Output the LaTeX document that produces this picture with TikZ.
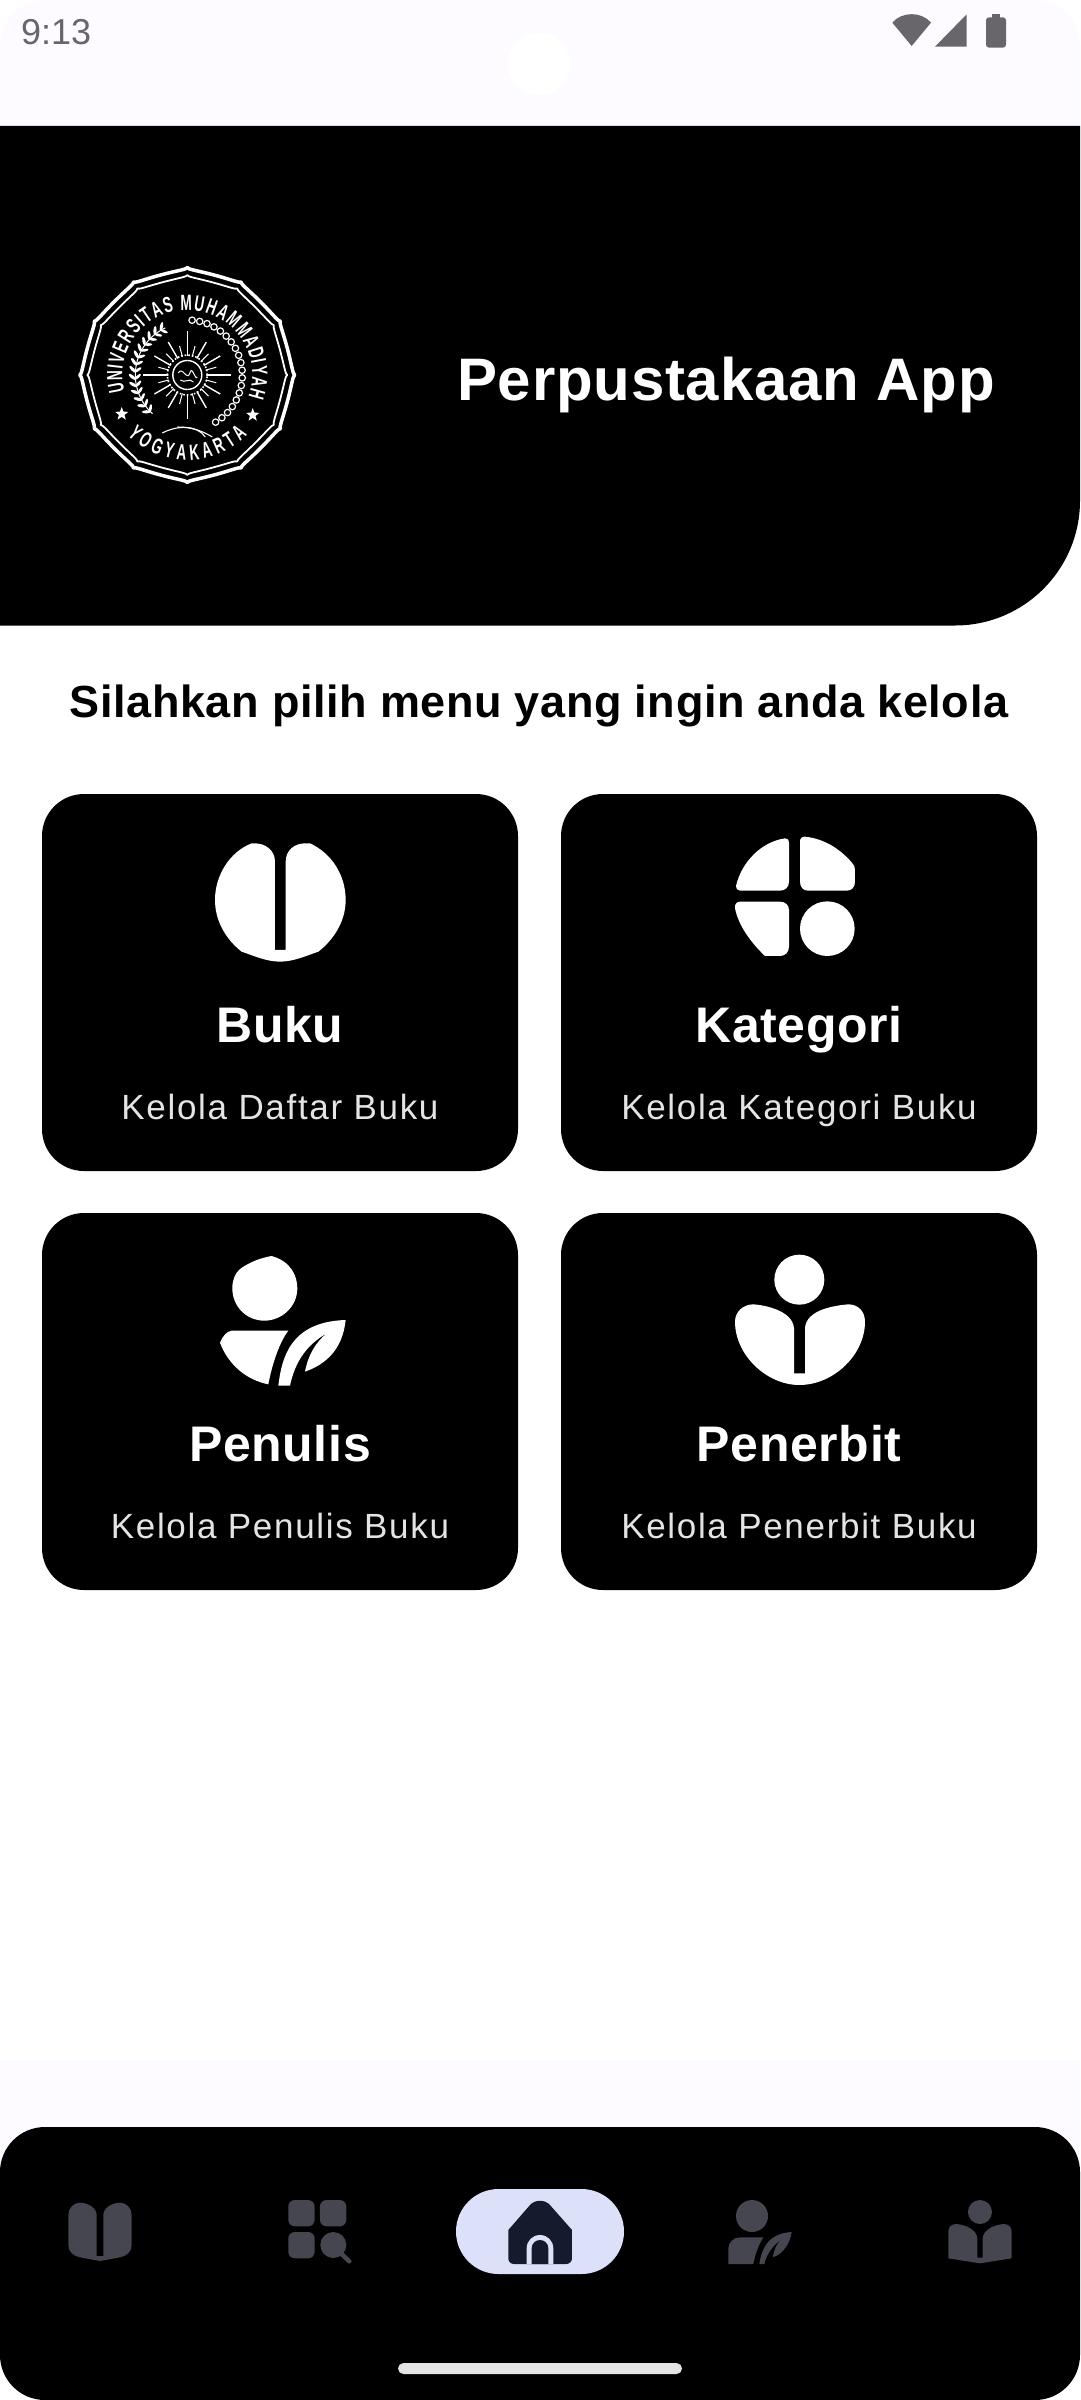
\documentclass[tikz,border=0pt]{standalone}
\usepackage{fontspec}
\setmainfont{Liberation Sans}
\newfontfamily\sealfont[FakeStretch=0.62]{Liberation Sans}
\newfontfamily\headfont[LetterSpace=1.3]{Liberation Sans}
\newfontfamily\subfont[LetterSpace=4.8]{Liberation Sans}
\usetikzlibrary{decorations.text,shapes.geometric}
\definecolor{statusbg}{HTML}{FDFBFF}
\definecolor{statusgrey}{HTML}{68666A}
\definecolor{navgrey}{HTML}{45464F}
\definecolor{pillblue}{HTML}{DCE1F9}
\definecolor{homedark}{HTML}{151B2C}
\definecolor{subgrey}{HTML}{E4E4E4}
\tikzset{
    cardbox/.style={fill=black,rounded corners=42pt},
    cardtitle/.style={anchor=base,text=white,font=\headfont\bfseries\fontsize{50}{50}\selectfont},
    cardsub/.style={anchor=base,text=subgrey,font=\subfont\fontsize{35}{35}\selectfont},
    tiny3/.style={x=0.3333pt,y=-0.3333pt},
}
\begin{document}
\begin{tikzpicture}[x=1pt,y=-1pt]
    \useasboundingbox (0,0) rectangle (1080,2400);
    \fill[white] (0,0) rectangle (1080,2400);

    % status bar
    \fill[statusbg,rounded corners=45pt] (0,0) rectangle (1080,170);
    \fill[statusbg] (0,2060) rectangle (1080,2200);
    \fill[white] (539,64) circle (31);
    \node[anchor=base west,text=statusgrey,inner sep=0pt,font=\fontsize{36}{36}\selectfont] (clock) at (21,45) {9:13};
    \begin{scope}[shift={(880,0)},tiny3]
        \fill[statusgrey] (95,138) -- (37,68) .. controls (65,34) and (125,34) .. (153,68) -- cycle;
        \fill[statusgrey] (165,140) -- (260,140) -- (260,43) -- cycle;
        \fill[statusgrey,rounded corners=3pt] (318,52) rectangle (378,143);
        \fill[statusgrey] (335,42) rectangle (361,56);
    \end{scope}

    % header
    \fill[black] (0,126) -- (1080,126) [rounded corners=125pt] -- (1080,625.5) [sharp corners] -- (0,625.5) -- cycle;
    \node[anchor=base,text=white,font=\headfont\bfseries\fontsize{60}{60}\selectfont] (apptitle) at (726,400) {Perpustakaan App};

    % seal
    \begin{scope}[shift={(187.3,375)},x=1pt,y=1pt]
        \draw[white,line width=3.5pt,line join=round] plot[domain=0:360,samples=361] (\x:{107.5-4*sqrt(abs(sin(6*\x))+0.001)}) -- cycle;
        \draw[white,line width=1.8pt,line join=round] plot[domain=0:360,samples=361] (\x:{100-4*sqrt(abs(sin(6*\x))+0.001)}) -- cycle;
        \path[decorate,decoration={text along path,text align=fit to path,
            text={|\sealfont\bfseries\color{white}\fontsize{22}{22}\selectfont|UNIVERSITAS MUHAMMADIYAH}}]
            (195:65) arc (195:-20:65);
        \path[decorate,decoration={text along path,text align=fit to path,
            text={|\sealfont\bfseries\color{white}\fontsize{22}{22}\selectfont|YOGYAKARTA}}]
            (225:85) arc (225:315:85);
        \node[star,fill=white,star point ratio=2.4,minimum size=14pt,inner sep=0pt] (starleft) at (-65.6,-39) {};
        \node[star,fill=white,star point ratio=2.4,minimum size=14pt,inner sep=0pt] (starright) at (65.4,-40) {};
        \draw[white,line width=1pt] (115:52) arc (115:228:52);
        \foreach \a in {118,126,...,226} {
            \fill[white,shift={(\a:55)},rotate=\a-40] (0,0) ellipse (4.5 and 1.6);
            \fill[white,shift={(\a:49.5)},rotate=\a+40] (0,0) ellipse (4 and 1.4);
        }
        \foreach \a in {85,77,...,-65} {
            \draw[white,line width=1.2pt] (\a:55) circle (3.2);
        }
        \draw[white,line width=1.1pt] (-25,-58) .. controls (-10,-50) and (10,-50) .. (18,-62);
        \draw[white,line width=1.1pt] (-10,-52) .. controls (5,-52) and (15,-56) .. (25,-62);
        \foreach \a in {0,90,180,270} {
            \draw[white,line width=1.6pt] (\a:18) -- (\a:44);
        }
        \foreach \a in {30,60,120,150,210,240,300,330} {
            \draw[white,line width=1.4pt] (\a:18) -- (\a:38);
        }
        \foreach \a in {15,45,...,345} {
            \draw[white,line width=1pt] (\a:18) -- (\a:30);
        }
        \fill[black] (0,0) circle (19);
        \draw[white,line width=1.6pt,dotted] (0,0) circle (20);
        \draw[white,line width=1.4pt] (0,0) circle (14.5);
        \draw[white,line width=1pt] (-9,2) .. controls (-5,10) and (0,-8) .. (3,3) .. controls (5,9) and (8,-6) .. (10,-2);
        \draw[white,line width=1pt] (-7,-5) .. controls (-2,-9) and (2,-2) .. (6,-7);
    \end{scope}

    % prompt
    \node[anchor=base,text=black,font=\headfont\bfseries\fontsize{45}{45}\selectfont] (prompt) at (539,717) {Silahkan pilih menu yang ingin anda kelola};

    % cards
    \fill[cardbox] (42,794) rectangle (518,1171);
    \fill[cardbox] (561,794) rectangle (1037,1171);
    \fill[cardbox] (42,1213) rectangle (518,1590);
    \fill[cardbox] (561,1213) rectangle (1037,1590);

    \node[cardtitle] (bukutitle) at (280,1042) {Buku};
    \node[cardsub] (bukusub) at (280,1119) {Kelola Daftar Buku};
    \node[cardtitle] (kategorititle) at (799,1042) {Kategori};
    \node[cardsub] (kategorisub) at (799,1119) {Kelola Kategori Buku};
    \node[cardtitle] (penulistitle) at (280,1461) {Penulis};
    \node[cardsub] (penulissub) at (280,1538) {Kelola Penulis Buku};
    \node[cardtitle] (penerbittitle) at (799,1461) {Penerbit};
    \node[cardsub] (penerbitsub) at (799,1538) {Kelola Penerbit Buku};

    % card icons
    \begin{scope}[shift={(200,825)},tiny3]
        \fill[white] (225,375) -- (225,110) .. controls (225,75) and (195,55) .. (165,55) -- (155,55)
            .. controls (90,80) and (45,150) .. (45,225) .. controls (45,290) and (80,345) .. (125,380)
            .. controls (160,392) and (200,410) .. (240,410) .. controls (280,410) and (320,392) .. (355,380)
            .. controls (400,345) and (437,290) .. (437,225) .. controls (437,150) and (395,85) .. (330,55)
            -- (315,55) .. controls (285,55) and (257,75) .. (257,110) -- (257,375) -- cycle;
    \end{scope}
    \begin{scope}[shift={(720,825)},tiny3]
        \fill[white] (195,40) .. controls (203,40) and (207,45) .. (207,52) -- (207,170)
            .. controls (207,187) and (195,197) .. (180,197) -- (60,197)
            .. controls (52,197) and (47,190) .. (48,183) .. controls (65,110) and (125,50) .. (195,40) -- cycle;
        \fill[white] (240,50) .. controls (240,40) and (245,35) .. (255,35)
            .. controls (320,42) and (365,78) .. (395,112) .. controls (402,120) and (405,125) .. (405,135) -- (405,170)
            .. controls (405,187) and (395,197) .. (380,197) -- (265,197)
            .. controls (250,197) and (240,187) .. (240,170) -- cycle;
        \fill[white] (60,230) -- (180,230) .. controls (195,230) and (207,240) .. (207,255) -- (207,365)
            .. controls (207,382) and (195,393) .. (180,393) -- (135,393)
            .. controls (90,350) and (55,300) .. (45,250) .. controls (43,238) and (50,230) .. (60,230) -- cycle;
        \fill[white] (322,311) circle (82);
    \end{scope}
    \begin{scope}[shift={(200,1245)},tiny3]
        \fill[white] (215,33) .. controls (275,50) and (292,95) .. (292,130)
            .. controls (292,185) and (245,227) .. (193,227) .. controls (140,227) and (97,185) .. (97,130)
            .. controls (97,105) and (105,85) .. (120,72) .. controls (150,50) and (185,38) .. (215,33) -- cycle;
        \fill[white] (95,257) -- (265,257) .. controls (240,290) and (218,350) .. (205,418)
            .. controls (140,405) and (85,360) .. (60,293) .. controls (70,270) and (80,260) .. (95,257) -- cycle;
        \fill[white] (235,422) .. controls (245,340) and (270,230) .. (437,225)
            .. controls (430,290) and (400,350) .. (315,380) .. controls (325,330) and (345,295) .. (380,265)
            .. controls (320,300) and (285,350) .. (270,422) -- cycle;
    \end{scope}
    \begin{scope}[shift={(720,1245)},tiny3]
        \fill[white] (238,104) circle (75);
        \fill[white] (45,230) .. controls (45,200) and (70,178) .. (100,178) .. controls (130,180) and (218,195) .. (222,250)
            -- (222,385) -- (255,385) -- (255,250) .. controls (258,195) and (340,182) .. (385,178)
            .. controls (415,178) and (435,200) .. (435,230) .. controls (435,330) and (340,420) .. (238,420)
            .. controls (140,420) and (45,330) .. (45,230) -- cycle;
    \end{scope}

    % bottom bar
    \fill[black,rounded corners=45pt] (0,2127) rectangle (1080,2400);
    \fill[pillblue,rounded corners=42.5pt] (456,2189) rectangle (624,2274);
    \fill[subgrey,rounded corners=5.5pt] (398,2363) rectangle (682,2374);

    \begin{scope}[shift={(50,2180)},tiny3]
        \fill[navgrey] (140,105) -- (140,228) -- (160,228) -- (160,105) .. controls (160,85) and (185,68) .. (210,68)
            .. controls (230,68) and (245,85) .. (245,105) -- (245,195) .. controls (245,215) and (230,228) .. (210,232)
            -- (150,243) -- (90,232) .. controls (70,228) and (55,215) .. (55,195) -- (55,105)
            .. controls (55,85) and (70,68) .. (90,68) .. controls (115,68) and (140,85) .. (140,105) -- cycle;
        \fill[navgrey,rounded corners=6.5pt] (715,60) rectangle (794,139);
        \fill[navgrey,rounded corners=6.5pt] (810,60) rectangle (889,139);
        \fill[navgrey,rounded corners=6.5pt] (715,156) rectangle (794,235);
        \fill[navgrey] (850,195) circle (39);
        \draw[navgrey,line width=4.5pt,line cap=round] (875,222) -- (898,244);
    \end{scope}
    \begin{scope}[shift={(440,2170)},tiny3]
        \fill[homedark] (205,180) -- (270,105) .. controls (285,88) and (315,88) .. (330,105) -- (396,180) -- (396,265)
            .. controls (396,275) and (388,282) .. (378,282) -- (222,282) .. controls (212,282) and (205,275) .. (205,265) -- cycle;
        \fill[pillblue] (260,282) -- (260,235) .. controls (260,212) and (278,195) .. (300,195)
            .. controls (322,195) and (340,212) .. (340,235) -- (340,282) -- cycle;
        \fill[homedark] (275,282) -- (275,235) .. controls (275,220) and (287,210) .. (300,210)
            .. controls (313,210) and (325,220) .. (325,235) -- (325,282) -- cycle;
    \end{scope}
    \begin{scope}[shift={(710,2180)},tiny3]
        \fill[navgrey] (126,108) circle (48);
        \fill[navgrey] (55,252) -- (55,205) .. controls (55,187) and (72,172) .. (90,172) -- (160,172)
            .. controls (145,195) and (135,225) .. (130,252) -- cycle;
        \fill[navgrey] (148,252) .. controls (155,205) and (175,160) .. (245,156) .. controls (240,190) and (220,222) .. (188,232)
            .. controls (192,210) and (200,190) .. (215,178) .. controls (190,195) and (170,220) .. (163,252) -- cycle;
        \fill[navgrey] (810,96) circle (36);
        \fill[navgrey] (715,235) -- (715,155) .. controls (715,140) and (725,132) .. (740,132)
            .. controls (770,135) and (800,150) .. (802,175) -- (802,233) -- (818,233) -- (818,175)
            .. controls (820,150) and (850,135) .. (880,132) .. controls (895,132) and (905,140) .. (905,155)
            -- (905,235) -- (810,250) -- cycle;
    \end{scope}
\end{tikzpicture}
\end{document}
